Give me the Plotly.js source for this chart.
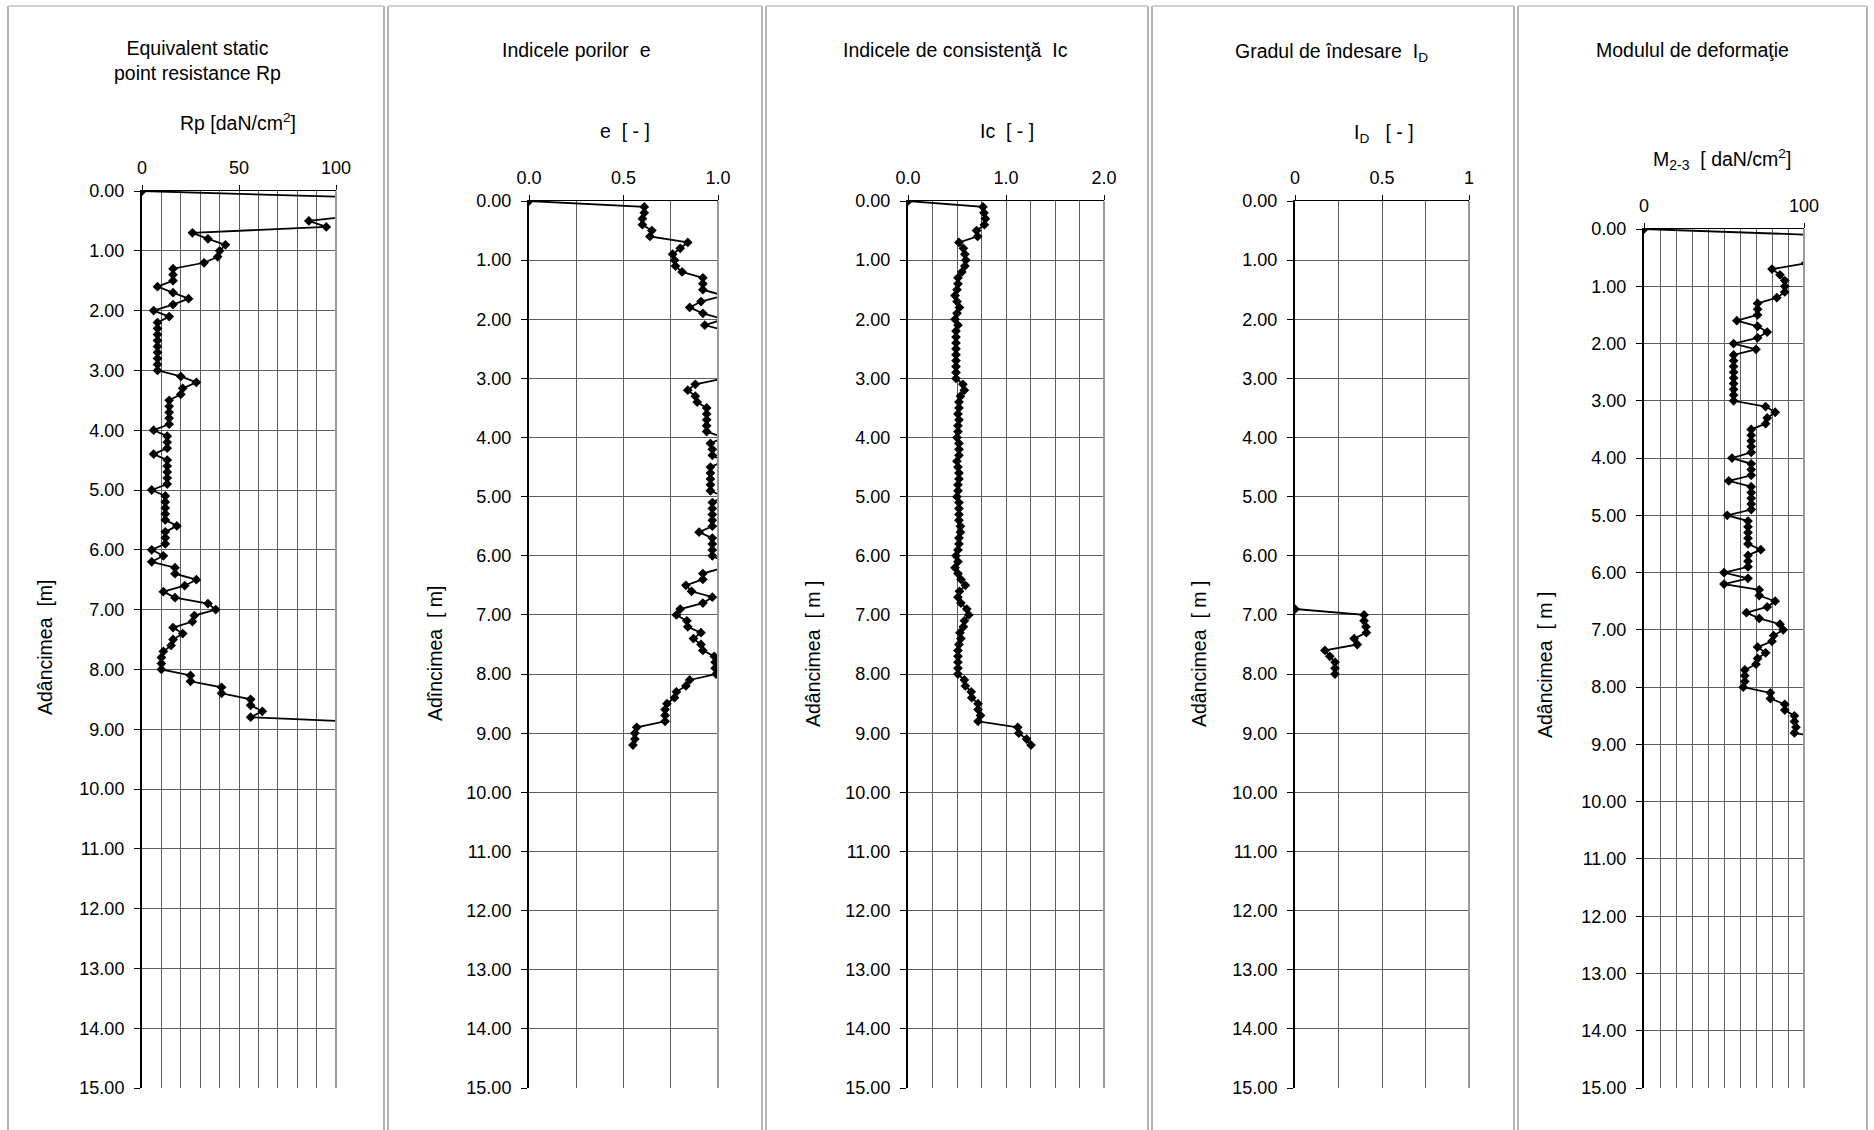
<!DOCTYPE html>
<html>
<head>
<meta charset="utf-8">
<script src="https://cdn.plot.ly/plotly-3.0.1.min.js"></script>
<style>html,body{margin:0;padding:0;background:#fff;}#chart{width:1874px;height:1130px;}</style>
</head>
<body>
<div id="chart"></div>
<script>
// ---------- DATA ----------
const depthRp = [0.0,0.1,0.2,0.3,0.4,0.5,0.6,0.7,0.8,0.9,1.0,1.1,1.2,1.3,1.4,1.5,1.6,1.7,1.8,1.9,2.0,2.1,2.2,2.3,2.4,2.5,2.6,2.7,2.8,2.9,3.0,3.1,3.2,3.3,3.4,3.5,3.6,3.7,3.8,3.9,4.0,4.1,4.2,4.3,4.4,4.5,4.6,4.7,4.8,4.9,5.0,5.1,5.2,5.3,5.4,5.5,5.6,5.7,5.8,5.9,6.0,6.1,6.2,6.3,6.4,6.5,6.6,6.7,6.8,6.9,7.0,7.1,7.2,7.3,7.4,7.5,7.6,7.7,7.8,7.9,8.0,8.1,8.2,8.3,8.4,8.5,8.6,8.7,8.8,8.9];
const rpValues = [0,105,130,125,114,86,95,26,34,43,40,39,32,16,16,16,8,16,24,16,6,14,8,8,8,8,8,8,8,8,8,20,28,21,20,14,14,14,14,14,6,13,13,13,6,13,13,13,13,13,5,12,12,12,12,12,18,12,12,12,5,11,5,17,17,28,22,11,17,34,38,27,26,16,21,16,15,11,10,10,10,25,25,41,41,56,56,62,56,130];

const depthE = [0.0,0.1,0.2,0.3,0.4,0.5,0.6,0.7,0.8,0.9,1.0,1.1,1.2,1.3,1.4,1.5,1.6,1.7,1.8,1.9,2.0,2.1,2.2,2.3,2.4,2.5,2.6,2.7,2.8,2.9,3.0,3.1,3.2,3.3,3.4,3.5,3.6,3.7,3.8,3.9,4.0,4.1,4.2,4.3,4.4,4.5,4.6,4.7,4.8,4.9,5.0,5.1,5.2,5.3,5.4,5.5,5.6,5.7,5.8,5.9,6.0,6.1,6.2,6.3,6.4,6.5,6.6,6.7,6.8,6.9,7.0,7.1,7.2,7.3,7.4,7.5,7.6,7.7,7.8,7.9,8.0,8.1,8.2,8.3,8.4,8.5,8.6,8.7,8.8,8.9,9.0,9.1,9.2];
const eValues = [0,0.61,0.61,0.60,0.60,0.65,0.64,0.84,0.80,0.76,0.77,0.775,0.81,0.92,0.92,0.92,1.03,0.91,0.85,0.92,1.03,0.93,1.05,1.06,1.05,1.06,1.05,1.06,1.05,1.06,1.03,0.88,0.84,0.88,0.89,0.94,0.94,0.94,0.94,0.94,1.03,0.96,0.97,0.97,1.03,0.96,0.96,0.96,0.96,0.96,1.03,0.97,0.97,0.97,0.97,0.97,0.90,0.97,0.97,0.97,0.97,1.03,1.03,0.92,0.92,0.83,0.86,0.97,0.92,0.80,0.78,0.835,0.84,0.91,0.87,0.91,0.92,0.98,0.985,0.985,0.99,0.85,0.83,0.78,0.77,0.73,0.72,0.72,0.72,0.57,0.56,0.56,0.55];

const depthIc = [0.0,0.1,0.2,0.3,0.4,0.5,0.6,0.7,0.8,0.9,1.0,1.1,1.2,1.3,1.4,1.5,1.6,1.7,1.8,1.9,2.0,2.1,2.2,2.3,2.4,2.5,2.6,2.7,2.8,2.9,3.0,3.1,3.2,3.3,3.4,3.5,3.6,3.7,3.8,3.9,4.0,4.1,4.2,4.3,4.4,4.5,4.6,4.7,4.8,4.9,5.0,5.1,5.2,5.3,5.4,5.5,5.6,5.7,5.8,5.9,6.0,6.1,6.2,6.3,6.4,6.5,6.6,6.7,6.8,6.9,7.0,7.1,7.2,7.3,7.4,7.5,7.6,7.7,7.8,7.9,8.0,8.1,8.2,8.3,8.4,8.5,8.6,8.7,8.8,8.9,9.0,9.1,9.2];
const icValues = [0,0.765,0.775,0.79,0.78,0.70,0.71,0.52,0.565,0.58,0.59,0.58,0.55,0.51,0.51,0.50,0.48,0.50,0.525,0.50,0.48,0.51,0.49,0.49,0.49,0.49,0.49,0.49,0.49,0.49,0.49,0.56,0.575,0.535,0.52,0.52,0.51,0.52,0.51,0.51,0.50,0.52,0.52,0.52,0.50,0.51,0.52,0.52,0.51,0.51,0.50,0.52,0.52,0.52,0.52,0.535,0.535,0.52,0.52,0.51,0.49,0.51,0.48,0.51,0.54,0.585,0.525,0.51,0.54,0.60,0.62,0.575,0.565,0.53,0.54,0.52,0.51,0.51,0.51,0.51,0.51,0.575,0.585,0.645,0.65,0.715,0.715,0.74,0.715,1.12,1.13,1.21,1.255];

const depthId = [6.9,7.0,7.1,7.2,7.3,7.4,7.5,7.6,7.7,7.8,7.9,8.0];
const idValues = [0,0.397,0.397,0.408,0.41,0.34,0.358,0.172,0.20,0.23,0.23,0.23];

const depthM = [0.0,0.1,0.2,0.3,0.4,0.5,0.6,0.7,0.8,0.9,1.0,1.1,1.2,1.3,1.4,1.5,1.6,1.7,1.8,1.9,2.0,2.1,2.2,2.3,2.4,2.5,2.6,2.7,2.8,2.9,3.0,3.1,3.2,3.3,3.4,3.5,3.6,3.7,3.8,3.9,4.0,4.1,4.2,4.3,4.4,4.5,4.6,4.7,4.8,4.9,5.0,5.1,5.2,5.3,5.4,5.5,5.6,5.7,5.8,5.9,6.0,6.1,6.2,6.3,6.4,6.5,6.6,6.7,6.8,6.9,7.0,7.1,7.2,7.3,7.4,7.5,7.6,7.7,7.8,7.9,8.0,8.1,8.2,8.3,8.4,8.5,8.6,8.7,8.8,8.9];
const mValues = [0,103,140,135,125,110,101,80,85,88,88,88,83,71,71,71,58,71,77,71,56,70,56,56,56,56,56,56,56,56,56,76,82,77,76,67,67,67,67,67,55,67,67,67,53,67,67,67,67,67,52,65,65,65,65,65,73,65,65,65,50,65,50,72,72,82,77,64,72,85,87,81,80,71,76,71,70,63,63,63,62,79,79,88,88,94,94,95,94,115];

const depthTicks = [0,1,2,3,4,5,6,7,8,9,10,11,12,13,14,15];

// ---------- LAYOUT HELPERS ----------
const W = 1874, H = 1130;
const px = x => x / W;
const py = y => 1 - y / H;
const FONT = '"Liberation Sans", Arial, sans-serif';
const GRID = '#5e5e5e';

const panels = [
  {x:[142,336], y:[191,1088], range:[0,100], dtick:50, minor:10, fmt:'', depth:depthRp, vals:rpValues},
  {x:[529,718], y:[201,1088], range:[0,1], dtick:0.5, minor:0.25, fmt:'.1f', depth:depthE, vals:eValues},
  {x:[908,1104], y:[201,1088], range:[0,2], dtick:1, minor:0.25, fmt:'.1f', depth:depthIc, vals:icValues},
  {x:[1295,1469], y:[201,1088], range:[0,1], dtick:0.5, minor:0.25, fmt:'', depth:depthId, vals:idValues},
  {x:[1644,1804], y:[229,1088], range:[0,100], dtick:100, minor:10, fmt:'', depth:depthM, vals:mValues}
];

const traces = [];
const layout = {
  width: W, height: H,
  margin: {l:0, r:0, t:0, b:0},
  paper_bgcolor: '#fff', plot_bgcolor: '#fff',
  showlegend: false,
  font: {family: FONT, color: '#000', size: 16},
  shapes: [], annotations: []
};

panels.forEach((p, i) => {
  const n = i + 1;
  const xa = 'xaxis' + (n === 1 ? '' : n);
  const ya = 'yaxis' + (n === 1 ? '' : n);
  const xr = 'x' + (n === 1 ? '' : n);
  const yr = 'y' + (n === 1 ? '' : n);
  layout[xa] = {
    domain: [px(p.x[0]), px(p.x[1])],
    anchor: yr, side: 'top',
    range: p.range, tick0: 0, dtick: p.dtick, tickformat: p.fmt,
    showgrid: true, gridcolor: GRID, gridwidth: 1,
    minor: {dtick: p.minor, tick0: 0, showgrid: true, gridcolor: GRID, gridwidth: 1},
    ticks: 'outside', ticklen: 5, tickcolor: '#000',
    ticklabelstandoff: 3,
    showline: true, linecolor: '#000', linewidth: 1.5,
    zeroline: false, fixedrange: true,
    tickfont: {family: FONT, size: 18, color: '#000'}
  };
  layout[ya] = {
    domain: [py(p.y[1]), py(p.y[0])],
    anchor: xr,
    range: [15, 0], tickvals: depthTicks, tickformat: '.2f',
    showgrid: true, gridcolor: GRID, gridwidth: 1,
    ticks: 'outside', ticklen: 6, tickcolor: '#000',
    ticklabelstandoff: 6,
    showline: true, linecolor: '#000', linewidth: 2,
    zeroline: false, fixedrange: true,
    tickfont: {family: FONT, size: 18, color: '#000'}
  };
  traces.push({
    type: 'scatter', mode: 'lines+markers',
    x: p.vals, y: p.depth, xaxis: xr, yaxis: yr,
    line: {color: '#000', width: 1.8},
    marker: {symbol: 'diamond', size: 7.5, color: '#000'},
    cliponaxis: true, hoverinfo: 'skip'
  });
  // right edge of plot area
  layout.shapes.push({type:'line', xref:'paper', yref:'paper',
    x0: px(p.x[1]), x1: px(p.x[1]), y0: py(p.y[0]), y1: py(p.y[1]),
    line: {color: '#9a9a9a', width: 2}});
});

// panel frames
const frames = [[8,384],[388,762],[766,1148],[1152,1514],[1518,1867]];
frames.forEach(f => {
  layout.shapes.push({type:'line', xref:'paper', yref:'paper', x0:px(f[0]), x1:px(f[0]), y0:py(6), y1:py(1130), line:{color:'#8c8c8c', width:1.3}});
  layout.shapes.push({type:'line', xref:'paper', yref:'paper', x0:px(f[1]), x1:px(f[1]), y0:py(6), y1:py(1130), line:{color:'#8c8c8c', width:1.3}});
  layout.shapes.push({type:'line', xref:'paper', yref:'paper', x0:px(f[0]), x1:px(f[1]), y0:py(6), y1:py(6), line:{color:'#d0d0d0', width:2}});
});

function ann(text, x, y, opts) {
  layout.annotations.push(Object.assign({
    text: text, xref: 'paper', yref: 'paper', x: px(x), y: py(y),
    xanchor: 'center', yanchor: 'middle', showarrow: false,
    font: {family: FONT, size: 19.5, color: '#000'}
  }, opts || {}));
}

// titles
ann('Equivalent static<br>point resistance Rp', 197, 61);
ann('Indicele porilor\u00a0\u00a0e', 576, 50);
ann('Indicele de consistenţă\u00a0\u00a0Ic', 955, 50);
ann('Gradul de îndesare\u00a0\u00a0I<sub>D</sub>', 1331, 52);
ann('Modulul de deformaţie', 1692, 50);

// axis titles
ann('Rp [daN/cm<sup>2</sup>]', 238, 122);
ann('e\u00a0\u00a0[ - ]', 625, 131);
ann('Ic\u00a0\u00a0[ - ]', 1007, 131);
ann('I<sub>D</sub>\u00a0\u00a0\u00a0[ - ]', 1384, 133);
ann('M<sub><span style="font-size:14px">2-3</span></sub>\u00a0\u00a0[ daN/cm<sup>2</sup>]', 1722, 159);

// y-axis titles
const yt = {textangle: -90};
ann('Adâncimea\u00a0\u00a0[m]', 45, 648, yt);
ann('Adîncimea\u00a0\u00a0[ m]', 435, 654, yt);
ann('Adâncimea\u00a0\u00a0[ m ]', 813, 654, yt);
ann('Adâncimea\u00a0\u00a0[ m ]', 1199, 654, yt);
ann('Adâncimea\u00a0\u00a0[ m ]', 1545, 665, yt);

Plotly.newPlot('chart', traces, layout, {displayModeBar: false, staticPlot: true});
</script>
</body>
</html>
